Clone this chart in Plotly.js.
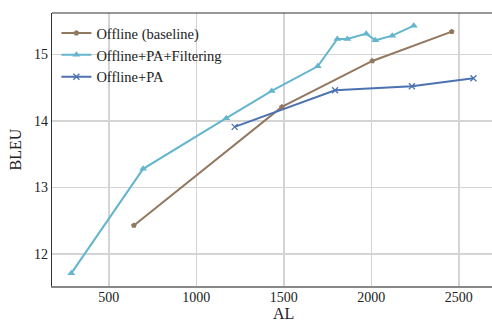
<!DOCTYPE html>
<html>
<head>
<meta charset="utf-8">
<script src="https://cdn.plot.ly/plotly-3.0.1.min.js"></script>
<style>html,body{margin:0;padding:0;background:#fff;}#chart{width:492px;height:321px;}</style>
</head>
<body>
<div id="chart"></div>
<script>
const baselineAL = [643, 1489, 2006, 2460];
const baselineBLEU = [12.43, 14.21, 14.90, 15.34];

const filteringAL = [285, 696, 1171, 1431, 1694, 1806, 1863, 1971, 2023, 2120, 2243];
const filteringBLEU = [11.71, 13.28, 14.04, 14.45, 14.82, 15.23, 15.23, 15.31, 15.21, 15.28, 15.43];

const paAL = [1219, 1793, 2232, 2584];
const paBLEU = [13.91, 14.46, 14.52, 14.64];

const seriesNames = ["Offline (baseline)", "Offline+PA+Filtering", "Offline+PA"];
const xTicks = [500, 1000, 1500, 2000, 2500];
const yTicks = [12, 13, 14, 15];
const xTitle = "AL";
const yTitle = "BLEU";

const font = "'Liberation Serif', 'Times New Roman', Tinos, 'DejaVu Serif', serif";

const traces = [
  {x: baselineAL, y: baselineBLEU, name: seriesNames[0], mode: "lines+markers",
   line: {color: "#937860", width: 2}, marker: {symbol: "pentagon", size: 6, color: "#937860"}},
  {x: filteringAL, y: filteringBLEU, name: seriesNames[1], mode: "lines+markers",
   line: {color: "#64B5CD", width: 2}, marker: {symbol: "triangle-up", size: 7, color: "#64B5CD"}},
  {x: paAL, y: paBLEU, name: seriesNames[2], mode: "lines+markers",
   line: {color: "#4C72B0", width: 2}, marker: {symbol: "x-thin", size: 6, color: "#4C72B0", line: {color: "#4C72B0", width: 1.3}}}
];

const layout = {
  width: 492, height: 321,
  margin: {l: 52, r: 0, t: 13, b: 35},
  paper_bgcolor: "#fff", plot_bgcolor: "#fff",
  font: {family: font, size: 14, color: "#222"},
  showlegend: true,
  legend: {x: 0.01, y: 0.985, xanchor: "left", yanchor: "top", bgcolor: "rgba(255,255,255,0)",
           font: {family: font, size: 14.5, color: "#222"}, tracegroupgap: 0, itemwidth: 30},
  xaxis: {range: [175, 2690], tickvals: xTicks, ticktext: xTicks.map(String),
          showgrid: true, gridcolor: "#d4d4d4", gridwidth: 1.5, zeroline: false,
          showline: true, linecolor: "#888", linewidth: 1.5, ticks: "", ticklen: 0,
          ticklabelstandoff: -2,
          tickfont: {family: font, size: 14, color: "#222"}},
  yaxis: {range: [11.52, 15.62], tickvals: yTicks, ticktext: yTicks.map(String),
          showgrid: true, gridcolor: "#d4d4d4", gridwidth: 1.5, zeroline: false,
          showline: true, linecolor: "#333", linewidth: 1.2, ticks: "", ticklen: 0,
          tickfont: {family: font, size: 14, color: "#222"},
          title: {text: yTitle, font: {family: font, size: 16, color: "#222"}, standoff: 8}},
  annotations: [{text: xTitle, xref: "x", yref: "paper", x: 1500, y: -0.1, xanchor: "center", yanchor: "middle",
                 showarrow: false, borderpad: 0, font: {family: font, size: 16, color: "#222"}}],
  shapes: [{type: "line", xref: "paper", yref: "paper", x0: 0, x1: 1, y0: 1, y1: 1,
            line: {color: "#333", width: 1.2}}]
};

Plotly.newPlot("chart", traces, layout, {displayModeBar: false, staticPlot: true});
</script>
</body>
</html>
